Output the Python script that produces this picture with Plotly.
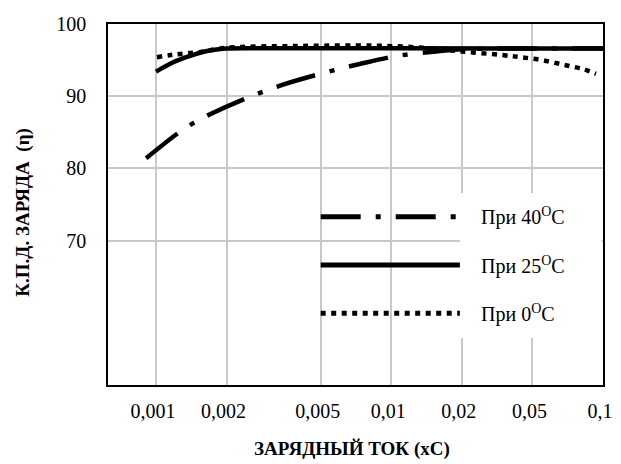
import plotly.graph_objects as go

# ---- data (x = position along the chart's current axis, tick positions below) ----
tick_pos = [0, 0.3, 0.7, 1.0, 1.3, 1.6, 1.9]
tick_text = ["0,001", "0,002", "0,005", "0,01", "0,02", "0,05", "0,1"]

x_40 = [-0.042, 0.09, 0.16, 0.23, 0.39, 0.54, 0.71, 0.87, 1.03, 1.19, 1.30, 1.45, 1.9]
y_40 = [81.4, 84.8, 86.3, 87.5, 89.8, 91.6, 93.2, 94.5, 95.6, 96.2, 96.5, 96.6, 96.6]

x_25 = [0, 0.067, 0.1375, 0.208, 0.3, 0.45, 1.0, 1.9]
y_25 = [93.4, 94.6, 95.5, 96.2, 96.6, 96.65, 96.65, 96.6]

x_0 = [0.004, 0.0625, 0.104, 0.18, 0.3, 0.6, 0.93, 1.14, 1.30, 1.47, 1.55, 1.64, 1.74, 1.82, 1.87]
y_0 = [95.4, 95.7, 95.85, 96.1, 96.7, 96.95, 97.0, 96.7, 96.2, 95.7, 95.4, 95.0, 94.3, 93.7, 93.1]

y_ticks = [70, 80, 90, 100]

legend_names = ["При 40<sup>O</sup>C", "При 25<sup>O</sup>C", "При 0<sup>O</sup>C"]

DASHDOT = "40px,15px,5px,15px"
DOTTED = "5px,5.5px"

W, H = 621, 464
L, R, T, B = 108, 613, 24, 385


def px_x(p):
    return (p - L) / (R - L)


def px_y(p):
    return (B - p) / (B - T)


FONT = "Liberation Serif"

fig = go.Figure()
fig.add_trace(go.Scatter(x=x_0, y=y_0, mode="lines", line=dict(color="black", width=4.5, dash=DOTTED, shape="spline"),
                         showlegend=False))
fig.add_trace(go.Scatter(x=x_40, y=y_40, mode="lines", line=dict(color="black", width=4.5, dash=DASHDOT, shape="spline"),
                         showlegend=False))
fig.add_trace(go.Scatter(x=x_25, y=y_25, mode="lines", line=dict(color="black", width=4.5, shape="spline"),
                         showlegend=False))

shapes = []
# legend background box
shapes.append(dict(type="rect", xref="paper", yref="paper", x0=px_x(467), x1=px_x(611.5), y0=px_y(338), y1=px_y(193),
                   fillcolor="white", line=dict(width=0), layer="above"))
legend_rows = [216.7, 265, 313.3]
legend_dash = [DASHDOT, "solid", DOTTED]
annotations = []
for yy, dsh, name in zip(legend_rows, legend_dash, legend_names):
    shapes.append(dict(type="line", xref="paper", yref="paper", x0=px_x(325), x1=px_x(467), y0=px_y(yy), y1=px_y(yy),
                       line=dict(color="black", width=5, dash=dsh), layer="above"))
    annotations.append(dict(xref="paper", yref="paper", x=px_x(486), y=px_y(yy), xanchor="left", yanchor="middle",
                            text=name, showarrow=False, font=dict(family=FONT, size=20, color="black")))

annotations.append(dict(xref="paper", yref="paper", x=px_x(21), y=px_y(212), xanchor="center", yanchor="middle",
                        text="<b>К.П.Д. ЗАРЯДА  (η)</b>", textangle=-90, showarrow=False,
                        font=dict(family=FONT, size=19, color="black")))
annotations.append(dict(xref="paper", yref="paper", x=px_x(357), y=px_y(449), xanchor="center", yanchor="middle",
                        text="<b>ЗАРЯДНЫЙ ТОК (хС)</b>", showarrow=False,
                        font=dict(family=FONT, size=19, color="black")))

fig.update_layout(
    width=W, height=H,
    margin=dict(l=L, r=W - R, t=T, b=H - B),
    paper_bgcolor="white", plot_bgcolor="white",
    shapes=shapes, annotations=annotations,
    showlegend=False,
    font=dict(family=FONT, size=20, color="black"),
)
fig.update_xaxes(range=[-0.204, 1.9], tickvals=tick_pos, ticktext=tick_text, showgrid=True,
                 gridcolor="#c8c8c8", gridwidth=1.5, showline=True, linecolor="black", linewidth=1.5,
                 mirror=True, ticks="", zeroline=False, ticklabelstandoff=7, ticklabelshift=-3,
                 tickfont=dict(family=FONT, size=20, color="black"))
fig.update_yaxes(range=[50, 100], tickvals=y_ticks, showgrid=True,
                 gridcolor="#c8c8c8", gridwidth=1.5, showline=True, linecolor="black", linewidth=1.5,
                 mirror=True, ticks="", zeroline=False, ticklabelstandoff=16,
                 tickfont=dict(family=FONT, size=20, color="black"))

fig.write_html("out.html")
